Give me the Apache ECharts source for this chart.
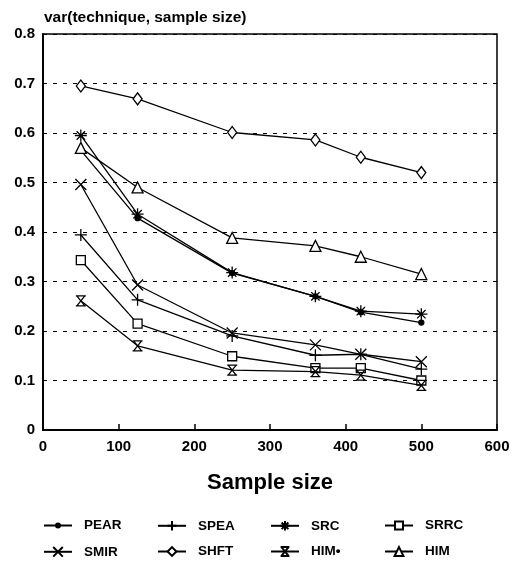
<!DOCTYPE html>
<html><head><meta charset="utf-8">
<script src="https://cdn.jsdelivr.net/npm/echarts@6/dist/echarts.min.js"></script>
<style>html,body{margin:0;padding:0;background:#fff}#c{width:513px;height:562px}</style>
</head><body><div id="c"></div>
<script>
const sampleSizes = [50, 125, 250, 360, 420, 500];
const seriesNames = ['PEAR', 'SPEA', 'SRC', 'SRRC', 'SMIR', 'SHFT', 'HIM•', 'HIM'];
const PEAR = [0.565, 0.428, 0.317, 0.270, 0.238, 0.217];
const SPEA = [0.394, 0.263, 0.190, 0.151, 0.153, 0.123];
const SRC  = [0.595, 0.436, 0.318, 0.270, 0.240, 0.234];
const SRRC = [0.343, 0.215, 0.149, 0.125, 0.125, 0.100];
const SMIR = [0.496, 0.293, 0.196, 0.172, 0.153, 0.138];
const SHFT = [0.695, 0.669, 0.601, 0.586, 0.551, 0.520];
const HIMS = [0.261, 0.170, 0.121, 0.118, 0.111, 0.090];
const HIM  = [0.570, 0.490, 0.388, 0.372, 0.350, 0.315];
const xTicks = [0, 100, 200, 300, 400, 500, 600];
const yTicks = [0, 0.1, 0.2, 0.3, 0.4, 0.5, 0.6, 0.7, 0.8];

const values = [PEAR, SPEA, SRC, SRRC, SMIR, SHFT, HIMS, HIM];
const symbols = [
  {s:'circle', size:5, fill:'#000', lh:5},
  {s:'path://M5 0L5 10M0 5L10 5', size:12, fill:'none', lh:12},
  {s:'path://M5 0L5 10M0 5L10 5M1.5 1.5L8.5 8.5M8.5 1.5L1.5 8.5', size:12, fill:'none', lh:12},
  {s:'rect', size:9, fill:'#fff', lh:10},
  {s:'path://M0 0L10 10M10 0L0 10', size:11, fill:'none', lh:12},
  {s:'diamond', size:[9,12], fill:'#fff', lh:11},
  {s:'path://M0 0L10 0M0 10L10 10M1 0L9 10M9 0L1 10', size:10, fill:'none', lh:11},
  {s:'triangle', size:11, fill:'#fff', lh:11}
];

const series = seriesNames.map((n, i) => ({
  name: n, type: 'line',
  data: sampleSizes.map((x, j) => [x, values[i][j]]),
  symbol: symbols[i].s, symbolSize: symbols[i].size, showSymbol: true,
  lineStyle: {color:'#000', width:1.3},
  itemStyle: {color: symbols[i].fill, borderColor:'#000', borderWidth:1.3},
  emphasis: {disabled: true},
  z: 3 + i
}));

const colLeft = [43, 157, 270, 384];
const legends = seriesNames.map((n, i) => ({
  data: [n],
  left: colLeft[i % 4],
  top: (i < 4 ? 526 : 552) - Math.max(symbols[i].lh, 15) / 2,
  padding: 0,
  itemWidth: 28, itemHeight: symbols[i].lh,
  textStyle: {fontFamily:'Liberation Sans', fontWeight:'bold', fontSize:13.5, color:'#000', padding:[0,0,0,7]},
  selectedMode: false
}));

const chart = echarts.init(document.getElementById('c'), null, {renderer:'canvas'});
chart.setOption({
  animation: false,
  backgroundColor: '#fff',
  title: {text:'var(technique, sample size)', left: 39, top: 5,
    textStyle:{fontFamily:'Liberation Sans', fontWeight:'bold', fontSize:15.5, color:'#000'}},
  legend: legends,
  grid: {left:43, right:16, top:34, bottom:132, show:true, borderColor:'#000', borderWidth:1.5, backgroundColor:'transparent'},
  xAxis: {
    type:'value', min: xTicks[0], max: xTicks[xTicks.length-1], interval: 100,
    name:'Sample size', nameLocation:'middle', nameGap: 42,
    nameTextStyle:{fontFamily:'Liberation Sans', fontWeight:'bold', fontSize:22, color:'#000'},
    axisLine:{show:true, lineStyle:{color:'#000', width:2}},
    axisTick:{show:true, inside:true, length:6, lineStyle:{color:'#000', width:1.5}},
    axisLabel:{fontFamily:'Liberation Sans', fontWeight:'bold', fontSize:15, color:'#000', margin:9},
    splitLine:{show:false}
  },
  yAxis: {
    type:'value', min: yTicks[0], max: yTicks[yTicks.length-1], interval: 0.1,
    axisLine:{show:true, lineStyle:{color:'#000', width:2}},
    axisTick:{show:false},
    axisLabel:{fontFamily:'Liberation Sans', fontWeight:'bold', fontSize:15, color:'#000', margin:8,
      formatter: v => v === 0 ? '0' : v.toFixed(1)},
    splitLine:{show:true, lineStyle:{color:'#000', width:1.2, type:[4,6]}}
  },
  series: series
});
</script></body></html>
